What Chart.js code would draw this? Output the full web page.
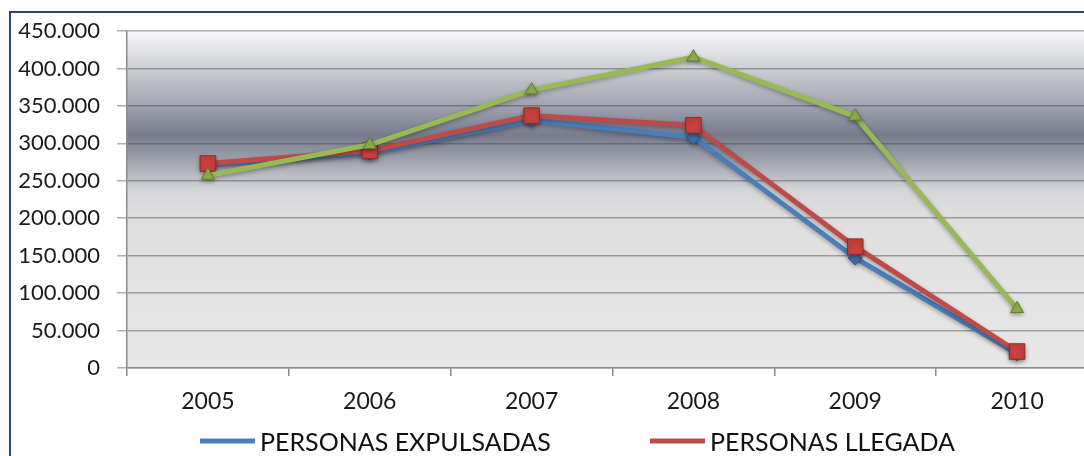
<!DOCTYPE html>
<html>
<head>
<meta charset="utf-8">
<script src="https://cdn.jsdelivr.net/npm/chart.js@4/dist/chart.umd.min.js"></script>
<style>
  html, body { margin: 0; padding: 0; background: #ffffff; overflow: hidden; width: 1084px; height: 456px; }
  #wrap { position: absolute; left: 9px; top: 11px; width: 1110px; height: 490px;
          border-left: 2px solid #2B4570; border-top: 2px solid #2B4570; background: #fff; }
</style>
</head>
<body>
<div id="wrap"><canvas id="c"></canvas></div>
<script>
// ---- data ----
const categories = ['2005', '2006', '2007', '2008', '2009', '2010'];
const seriesNames = ['PERSONAS EXPULSADAS', 'PERSONAS LLEGADA', 'PERSONAS DECLARADAS'];
const expulsadas = [271000, 287000, 331000, 308000, 147000, 19000];
const llegada    = [273000, 290000, 337000, 324000, 162000, 22000];
const declaradas = [257000, 298000, 371000, 415000, 336000, 79000];
const yTickLabels = ['0', '50.000', '100.000', '150.000', '200.000', '250.000', '300.000', '350.000', '400.000', '450.000'];

// ---- styles ----
const FONT = 'Lato, "Open Sans", sans-serif';
const colors = ['#4A7EBB', '#BE4B48', '#98B954'];
const markerFill = ['#3F6FA8', '#C8413D', '#8FB34A'];
const markerBorder = ['#2C5587', '#8C2E2B', '#627E2E'];
const markerStyle = ['rectRot', 'rect', 'triangle'];
const markerRadius = [7, 11, 7.5];

const plotBg = {
  id: 'plotBg',
  beforeDraw(chart) {
    const { ctx, chartArea: a } = chart;
    const g = ctx.createLinearGradient(0, a.top, 0, a.bottom);
    g.addColorStop(0.00, '#f8f8f8');
    g.addColorStop(0.09, '#d6d7db');
    g.addColorStop(0.20, '#a9acb7');
    g.addColorStop(0.31, '#777c8d');
    g.addColorStop(0.39, '#a2a5b0');
    g.addColorStop(0.47, '#d4d5d8');
    g.addColorStop(0.56, '#dfdfdf');
    g.addColorStop(1.00, '#e7e7e7');
    ctx.save();
    ctx.fillStyle = g;
    ctx.fillRect(a.left, a.top, a.right - a.left, a.bottom - a.top);
    ctx.restore();
  }
};

const shadow = {
  id: 'shadow',
  beforeDatasetsDraw(chart) {
    const ctx = chart.ctx;
    ctx.save();
    ctx.shadowColor = 'rgba(0,0,0,0.30)';
    ctx.shadowBlur = 4;
    ctx.shadowOffsetY = 2;
  },
  afterDatasetsDraw(chart) { chart.ctx.restore(); }
};

function drawMarker(ctx, i, x, y, r) {
  ctx.save();
  ctx.fillStyle = markerFill[i];
  ctx.strokeStyle = markerBorder[i];
  ctx.lineWidth = 1;
  Chart.helpers.drawPoint(ctx, { pointStyle: markerStyle[i], rotation: 0, borderWidth: 1 }, x, y, r);
  ctx.restore();
}

const customLegend = {
  id: 'customLegend',
  afterDraw(chart) {
    const ctx = chart.ctx;
    ctx.save();
    ctx.font = '25px ' + FONT;
    ctx.fillStyle = '#111111';
    ctx.textBaseline = 'alphabetic';
    ctx.textAlign = 'left';
    const items = [
      { x: 189, y: 428 },
      { x: 639, y: 428 },
      { x: 420, y: 462 }
    ];
    chart.data.datasets.forEach((ds, i) => {
      const it = items[i];
      ctx.strokeStyle = colors[i];
      ctx.lineWidth = 5;
      ctx.lineCap = 'butt';
      ctx.beginPath();
      ctx.moveTo(it.x, it.y);
      ctx.lineTo(it.x + 55, it.y);
      ctx.stroke();
      drawMarker(ctx, i, it.x + 27.5, it.y, i === 1 ? 7 : 6);
      ctx.fillStyle = '#111111';
      ctx.fillText(ds.label, it.x + 60, it.y + 10);
    });
    ctx.restore();
  }
};

const seriesData = [expulsadas, llegada, declaradas];
const datasets = seriesData.map((d, i) => ({
  label: seriesNames[i],
  data: d,
  borderColor: colors[i],
  borderWidth: 5,
  backgroundColor: markerFill[i],
  pointStyle: markerStyle[i],
  pointRadius: markerRadius[i],
  pointHoverRadius: markerRadius[i],
  pointBackgroundColor: markerFill[i],
  pointBorderColor: markerBorder[i],
  pointBorderWidth: 1,
  tension: 0,
  fill: false,
  order: 3 - i
}));

new Chart(document.getElementById('c'), {
  type: 'line',
  data: { labels: categories, datasets },
  options: {
    responsive: true,
    maintainAspectRatio: false,
    animation: false,
    layout: { padding: { left: 0, top: 18, right: 23, bottom: 75 } },
    plugins: { legend: { display: false }, tooltip: { enabled: false } },
    scales: {
      x: {
        offset: true,
        grid: { offset: true, drawOnChartArea: false, drawTicks: true, tickLength: 8, color: '#8c8c8c', lineWidth: 1.5 },
        border: { display: true, color: '#8c8c8c', width: 1.5 },
        ticks: { color: '#1a1a1a', font: { family: FONT, size: 23 }, padding: 12, maxRotation: 0 },
        afterFit(s) { s.height = 60; s.paddingLeft = 0; s.paddingRight = 0; }
      },
      y: {
        min: 0, max: 450000,
        ticks: {
          stepSize: 50000, color: '#1a1a1a', font: { family: FONT, size: 22 }, padding: 17,
          callback: (v, idx) => yTickLabels[idx]
        },
        grid: { color: 'rgba(70,70,70,0.45)', lineWidth: 1.5, tickLength: 10, drawTicks: true },
        border: { display: true, color: '#8c8c8c', width: 1.5 },
        afterFit(s) { s.width = 116; s.paddingTop = 0; s.paddingBottom = 0; }
      }
    }
  },
  plugins: [plotBg, shadow, customLegend]
});
</script>
</body>
</html>
